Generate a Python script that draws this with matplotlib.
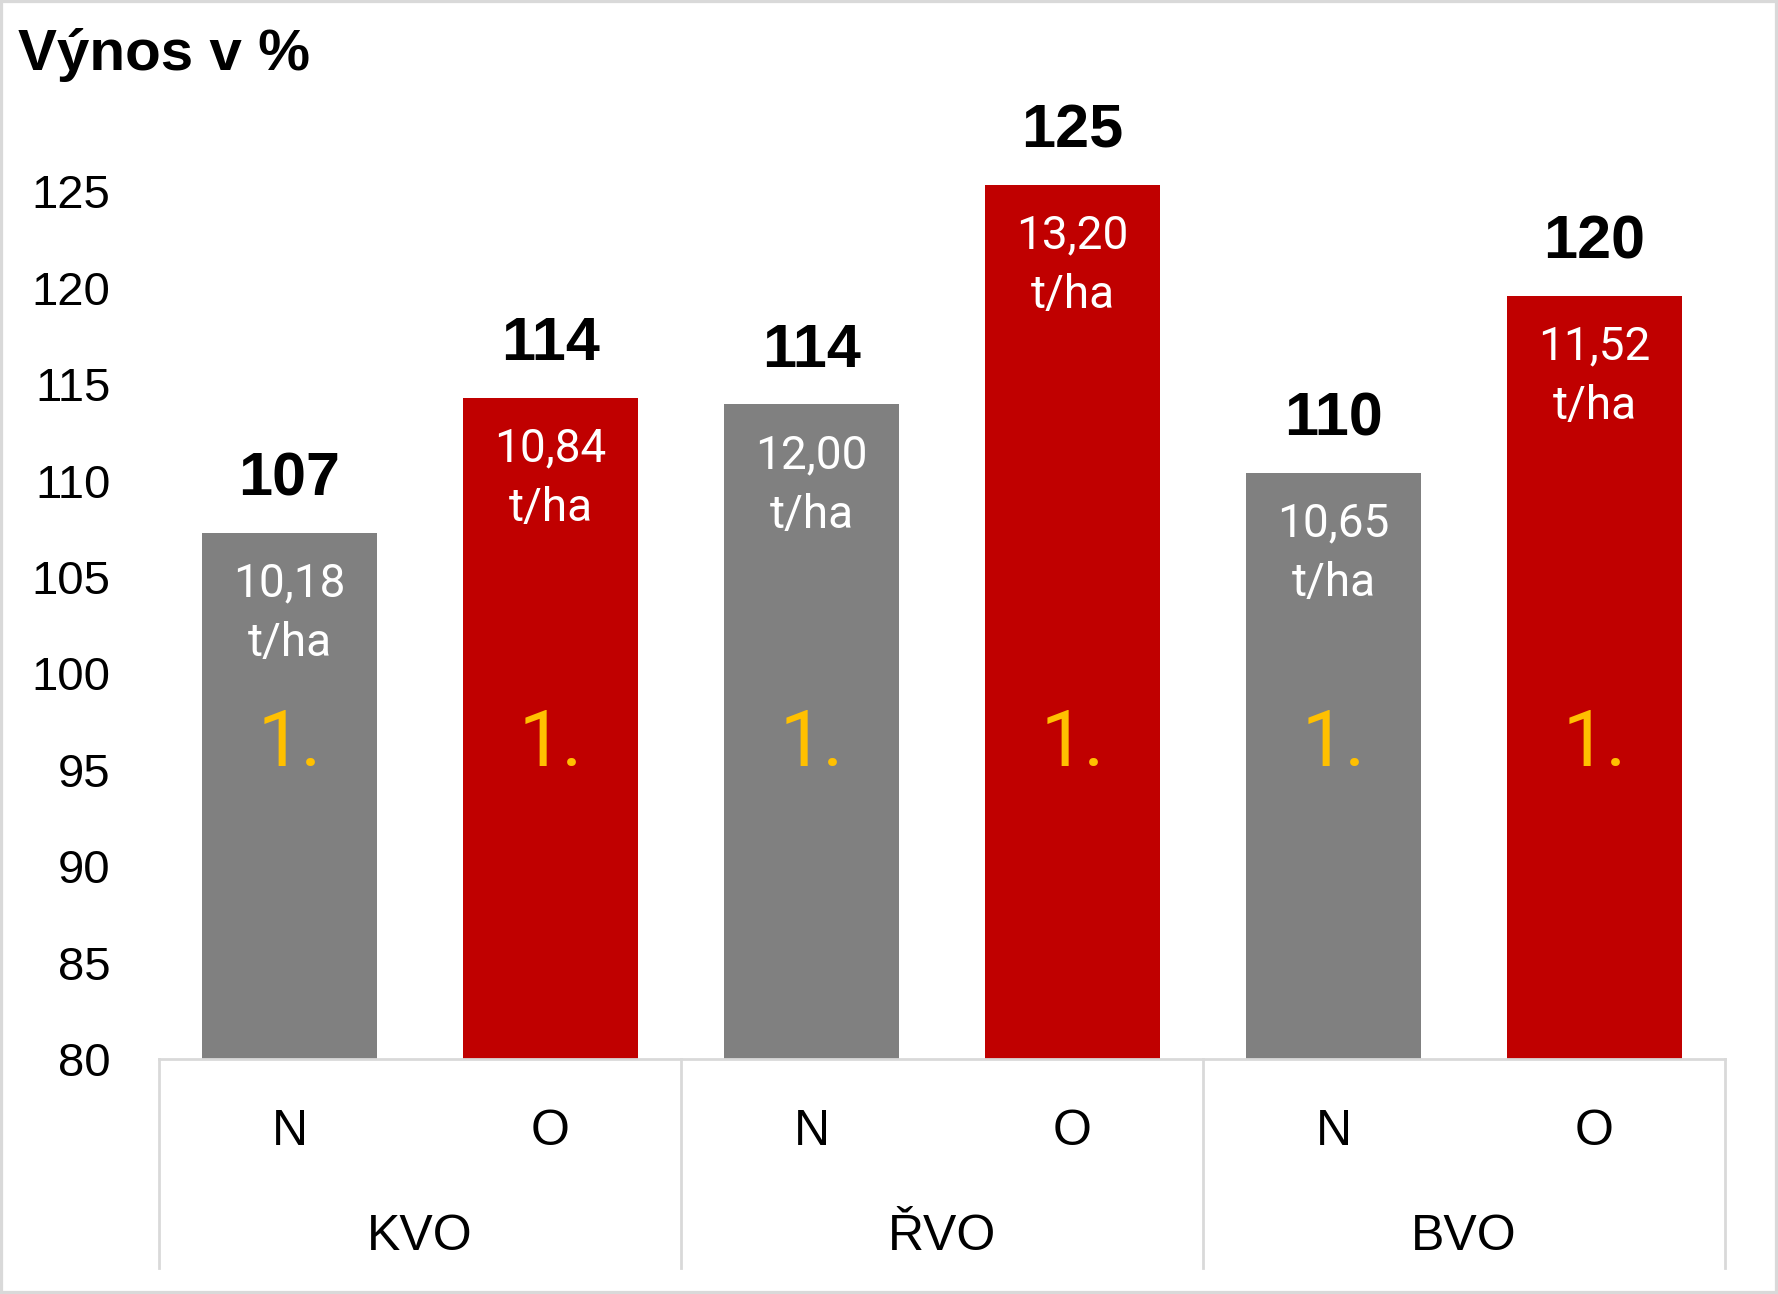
import numpy as np
import matplotlib.pyplot as plt
from matplotlib.patches import Rectangle

# data
regions = ["KVO", "ŘVO", "BVO"]
variants = ["N", "O", "N", "O", "N", "O"]
yield_pct = [107.3, 114.3, 113.95, 125.35, 110.4, 119.6]
yield_t_ha = ["10,18", "10,84", "12,00", "13,20", "10,65", "11,52"]
rank = ["1.", "1.", "1.", "1.", "1.", "1."]

GREY = "#808080"
RED = "#C00000"
YELLOW = "#FFC000"
LINE = "#D9D9D9"

plt.rcParams['font.family'] = ['Liberation Sans', 'DejaVu Sans']

W, H = 1778, 1294
fig = plt.figure(figsize=(W / 100, H / 100), dpi=100)
ax = fig.add_axes([159 / W, 1 - 1059 / H, 1566 / W, 964 / H])

x = np.arange(len(variants))
colors = [GREY if v == "N" else RED for v in variants]
bars = ax.bar(x, np.array(yield_pct) - 80, bottom=80, width=0.667, color=colors)

ax.set_xlim(-0.5, len(variants) - 0.5)
ax.set_ylim(80, 130)
ax.set_yticks(np.arange(80, 126, 5))
ax.tick_params(axis='y', length=0, pad=35, labelsize=34)
for lab in ax.get_yticklabels():
    lab.set_va('center_baseline')
ax.set_xticks(x)
ax.set_xticklabels(variants, fontsize=36)
ax.tick_params(axis='x', length=0, pad=36)
for s in ax.spines.values():
    s.set_visible(False)

# value labels
for xi, v, t, r in zip(x, yield_pct, yield_t_ha, rank):
    ax.annotate(f"{v:.0f}", (xi, v), xytext=(0, 38), textcoords='offset points',
                ha='center', va='center', fontsize=44, fontweight='bold')
    ax.annotate(f"{t}\nt/ha", (xi, v), xytext=(0, -58), textcoords='offset points',
                ha='center', va='center', fontsize=33, color='white',
                family=['Roboto', 'DejaVu Sans'], linespacing=1.45)
    ax.text(xi, 96.3, r, ha='center', va='center', fontsize=56, color=YELLOW,
            family=['Roboto', 'DejaVu Sans'])

# category table below the axis
trans = ax.get_xaxis_transform()
bottom = -0.217
ax.plot([-0.5, len(variants) - 0.5], [0, 0], transform=trans, color=LINE,
        lw=2, clip_on=False)
for b in np.arange(-0.5, len(variants), 2):
    ax.plot([b, b], [0, bottom], transform=trans, color=LINE, lw=2, clip_on=False)
for i, reg in enumerate(regions):
    ax.text(2 * i + 0.5, -0.185, reg, transform=trans, ha='center', va='center',
            fontsize=36)

fig.text(18 / W, 1 - 55 / H, "Výnos v %", fontsize=42, fontweight='bold',
         ha='left', va='center')

fig.patches.append(Rectangle((0, 0), 1, 1, transform=fig.transFigure,
                             fill=False, edgecolor=LINE, lw=4.5))

fig.savefig("out.png", dpi=100, facecolor='white')
